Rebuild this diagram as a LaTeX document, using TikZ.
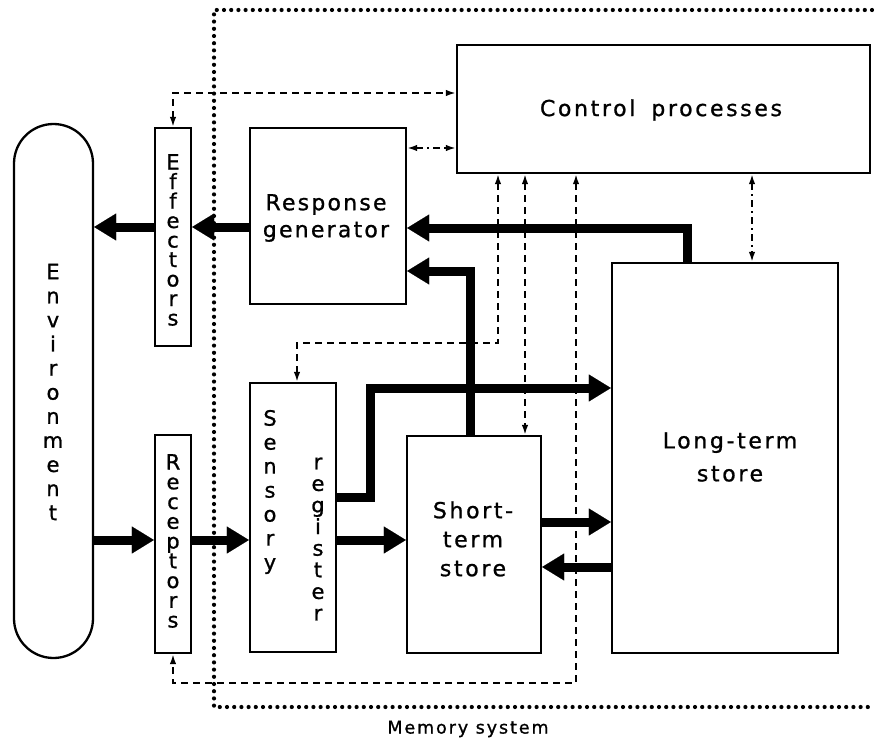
\documentclass[tikz,border=0pt]{standalone}
\usepackage{fontspec}
\setmainfont{DejaVu Sans}[FakeBold=1]
\newfontfamily\spfont{DejaVu Sans}[LetterSpace=12,FakeBold=1]
\newfontfamily\rgfont{DejaVu Sans}[LetterSpace=10,FakeBold=1]
\newfontfamily\msfont{DejaVu Sans}[LetterSpace=11,FakeBold=1]
\usetikzlibrary{arrows.meta}
\begin{document}
\begin{tikzpicture}[x=1pt,y=-1pt,
  box/.style={draw, line width=2.3pt, inner sep=0pt, rectangle},
  lbl/.style={align=center, font=\fontsize{22}{28}\spfont},
  stack/.style={align=center, inner sep=0pt, font=\fontsize{21}{#1}\selectfont},
  heavy/.style={line width=9pt, -{Triangle[length=22pt,width=27pt,line width=0.1pt]}},
  ctl/.style={line width=1.8pt, dash pattern=on 7pt off 5pt,
     {Latex[length=10pt,width=6.5pt]}-{Latex[length=10pt,width=6.5pt]}},
  ctldot/.style={ctl, dash pattern=on 7pt off 4pt on 2pt off 4pt},
  memline/.style={line width=4.2pt, line cap=round, dash pattern=on 0pt off 7.2pt}]
\useasboundingbox (0,0) rectangle (874,746);

% boxes
\node[box, rounded corners=39.5pt, minimum width=79pt, minimum height=534pt] (env) at (53.5,391) {};
\node[box, minimum width=36pt, minimum height=218pt] (eff) at (173,237) {};
\node[box, minimum width=36pt, minimum height=218pt] (rec) at (173,544) {};
\node[box, minimum width=156pt, minimum height=176pt] (rg) at (328,216) {};
\node[box, minimum width=413pt, minimum height=128pt] (cp) at (663.5,109) {};
\node[box, minimum width=86pt, minimum height=269pt] (sr) at (293,517.5) {};
\node[box, minimum width=134pt, minimum height=217pt] (sts) at (474,544.5) {};
\node[box, minimum width=226pt, minimum height=390pt] (lts) at (725,458) {};

% labels
\node[stack=24.1] (envt) at (53,392) {E\\n\\v\\i\\r\\o\\n\\m\\e\\n\\t};
\node[stack=19.5] (efft) at (173,240) {E\\f\\f\\e\\c\\t\\o\\r\\s};
\node[stack=19.75] (rect) at (173,541) {R\\e\\c\\e\\p\\t\\o\\r\\s};
\node[lbl, font=\fontsize{22}{27}\rgfont] (rgt) at (326,218) {Response\\generator};
\node[lbl] (cpt) at (661,110) {Control\hspace{16pt}processes};
\node[stack=24] (srt1) at (270,492) {S\\e\\n\\s\\o\\r\\y};
\node[stack=21.6] (srt2) at (318,539) {r\\e\\g\\i\\s\\t\\e\\r};
\node[lbl, font=\fontsize{22}{29}\spfont] (stst) at (473,539) {Short-\\term\\store};
\node[lbl, font=\fontsize{22}{33}\spfont] (ltst) at (730,457) {Long-term\\store};
\node[font=\fontsize{17.5}{20}\msfont] (mst) at (468,729) {Memory system};

% memory system boundary
\draw[memline] (872,10) -- (214,10) -- (214,707) -- (872,707);

% heavy information flow
\draw[heavy] (rg.west |- 0,227) -- (eff.east |- 0,227);
\draw[heavy] (eff.west |- 0,227) -- (env.east |- 0,227);
\draw[heavy] (env.east |- 0,540) -- (rec.west |- 0,540);
\draw[heavy] (rec.east |- 0,540) -- (sr.west |- 0,540);
\draw[heavy] (687,0 |- lts.north) |- (rg.east |- 0,228);
\draw[heavy] (470,0 |- sts.north) |- (rg.east |- 0,271);
\draw[heavy] (sr.east |- 0,497) -- (370,497) -- (370,388) -- (lts.west |- 0,388);
\draw[heavy] (sr.east |- 0,540) -- (sts.west |- 0,540);
\draw[heavy] (sts.east |- 0,522) -- (lts.west |- 0,522);
\draw[heavy] (lts.west |- 0,567) -- (sts.east |- 0,567);

% control signals
\draw[ctl] (eff.north) |- (cp.west |- 0,93);
\draw[ctldot] (rg.east |- 0,148) -- (cp.west |- 0,148);
\draw[ctl] (498,0 |- cp.south) -- (498,343) -- (297,343) -- (297,0 |- sr.north);
\draw[ctl] (525,0 |- cp.south) -- (525,0 |- sts.north);
\draw[ctl] (576,0 |- cp.south) -- (576,683) -- (rec.south |- 0,683) -- (rec.south);
\draw[ctldot] (752,0 |- cp.south) -- (752,0 |- lts.north);
\end{tikzpicture}
\end{document}
